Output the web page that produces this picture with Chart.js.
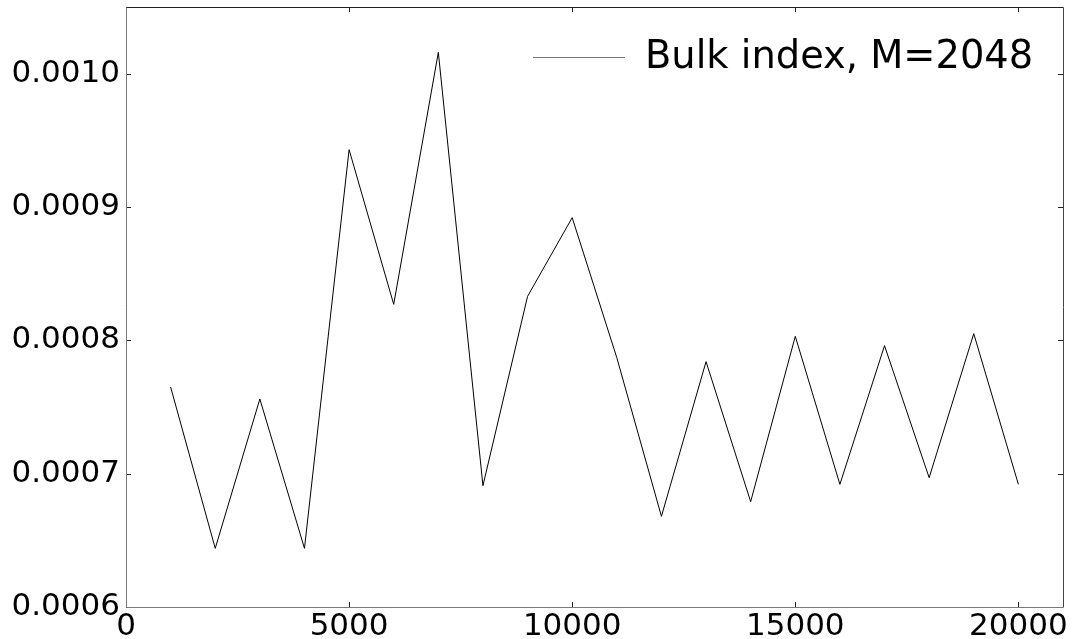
<!doctype html>
<html lang="en">
<head>
  <meta charset="utf-8" />
  <title>Bulk index, M=2048</title>
  <script src="https://cdn.jsdelivr.net/npm/chart.js"></script>
  <style>
    html,body{margin:0;padding:0;background:#fff;overflow:hidden}
    #plot{display:block}
  </style>
</head>
<body>
  <canvas id="plot" width="1077" height="639"></canvas>
  <script>
    // values
    const sizes = [1000,2000,3000,4000,5000,6000,7000,8000,9000,10000,11000,12000,13000,14000,15000,16000,17000,18000,19000,20000];
    const bulkIndex = [0.000765,0.000644,0.000756,0.000644,0.000943,0.000827,0.001016,0.000691,0.000833,0.000892,0.000787,0.000668,0.000784,0.000679,0.000803,0.000692,0.000796,0.000697,0.000805,0.000692];
    const seriesLabel = 'Bulk index, M=2048';
    const xTicks = [0,5000,10000,15000,20000];
    const yTicks = [0.0006,0.0007,0.0008,0.0009,0.0010];

    const FONT = 'DejaVu Sans';

    // frame + inward tick marks, matplotlib style
    const framePlugin = {
      id:'frame',
      afterDatasetsDraw(chart){
        const {ctx, chartArea:a, scales:{x,y}} = chart;
        ctx.save();
        ctx.lineWidth = 1;
        ctx.strokeStyle = '#222';
        xTicks.forEach(v=>{
          const px = Math.round(x.getPixelForValue(v))+0.5;
          ctx.beginPath(); ctx.moveTo(px,a.bottom); ctx.lineTo(px,a.bottom-5); ctx.stroke();
          ctx.beginPath(); ctx.moveTo(px,a.top); ctx.lineTo(px,a.top+5); ctx.stroke();
        });
        yTicks.forEach(v=>{
          const py = Math.round(y.getPixelForValue(v))+0.5;
          ctx.beginPath(); ctx.moveTo(a.left,py); ctx.lineTo(a.left+5,py); ctx.stroke();
          ctx.beginPath(); ctx.moveTo(a.right,py); ctx.lineTo(a.right-5,py); ctx.stroke();
        });
        const L = Math.round(a.left)+0.5, R = Math.round(a.right)+0.5;
        const T = Math.round(a.top)+0.5, B = Math.round(a.bottom)+0.5;
        ctx.strokeStyle = '#222';
        ctx.beginPath(); ctx.moveTo(L,T); ctx.lineTo(R,T); ctx.stroke();
        ctx.strokeStyle = '#444';
        ctx.beginPath(); ctx.moveTo(R,T); ctx.lineTo(R,B); ctx.stroke();
        ctx.strokeStyle = '#7a7a7a';
        ctx.beginPath(); ctx.moveTo(L,T); ctx.lineTo(L,B); ctx.lineTo(R,B); ctx.stroke();

        // legend, top right inside the axes
        ctx.strokeStyle = '#555';
        ctx.lineWidth = 0.8;
        ctx.beginPath(); ctx.moveTo(533,57.5); ctx.lineTo(625,57.5); ctx.stroke();
        ctx.fillStyle = '#000';
        ctx.font = '38.4px "' + FONT + '"';
        ctx.textBaseline = 'middle';
        ctx.textAlign = 'left';
        ctx.fillText(chart.data.datasets[0].label, 645, 58);
        ctx.restore();
      }
    };

    const ctx = document.getElementById('plot').getContext('2d');
    new Chart(ctx, {
      type:'line',
      data:{
        datasets:[{
          label: seriesLabel,
          data: sizes.map((s,i)=>({x:s, y:bulkIndex[i]})),
          borderColor:'#000',
          borderWidth:1,
          pointRadius:0,
          tension:0,
          fill:false
        }]
      },
      options:{
        responsive:false,
        animation:false,
        devicePixelRatio:1,
        layout:{padding:{left:0, top:7, right:14, bottom:0}},
        plugins:{legend:{display:false}, tooltip:{enabled:false}},
        scales:{
          x:{
            type:'linear', min:0, max:21000,
            afterBuildTicks(s){ s.ticks = xTicks.map(v=>({value:v})); },
            afterFit(s){ s.height = 32; s.paddingLeft = 0; s.paddingRight = 0; },
            grid:{display:false, drawTicks:false},
            border:{display:false},
            ticks:{color:'#000', padding:1, maxRotation:0, autoSkip:false,
              font:{family:FONT, size:31},
              callback:v=>String(v)}
          },
          y:{
            type:'linear', min:0.0006, max:0.00105,
            afterBuildTicks(s){ s.ticks = yTicks.map(v=>({value:v})); },
            afterFit(s){ s.width = 126; s.paddingTop = 0; s.paddingBottom = 0; },
            grid:{display:false, drawTicks:false},
            border:{display:false},
            ticks:{color:'#000', padding:6, autoSkip:false,
              font:{family:FONT, size:31},
              callback:v=>Number(v).toFixed(4)}
          }
        }
      },
      plugins:[framePlugin]
    });
  </script>
</body>
</html>
